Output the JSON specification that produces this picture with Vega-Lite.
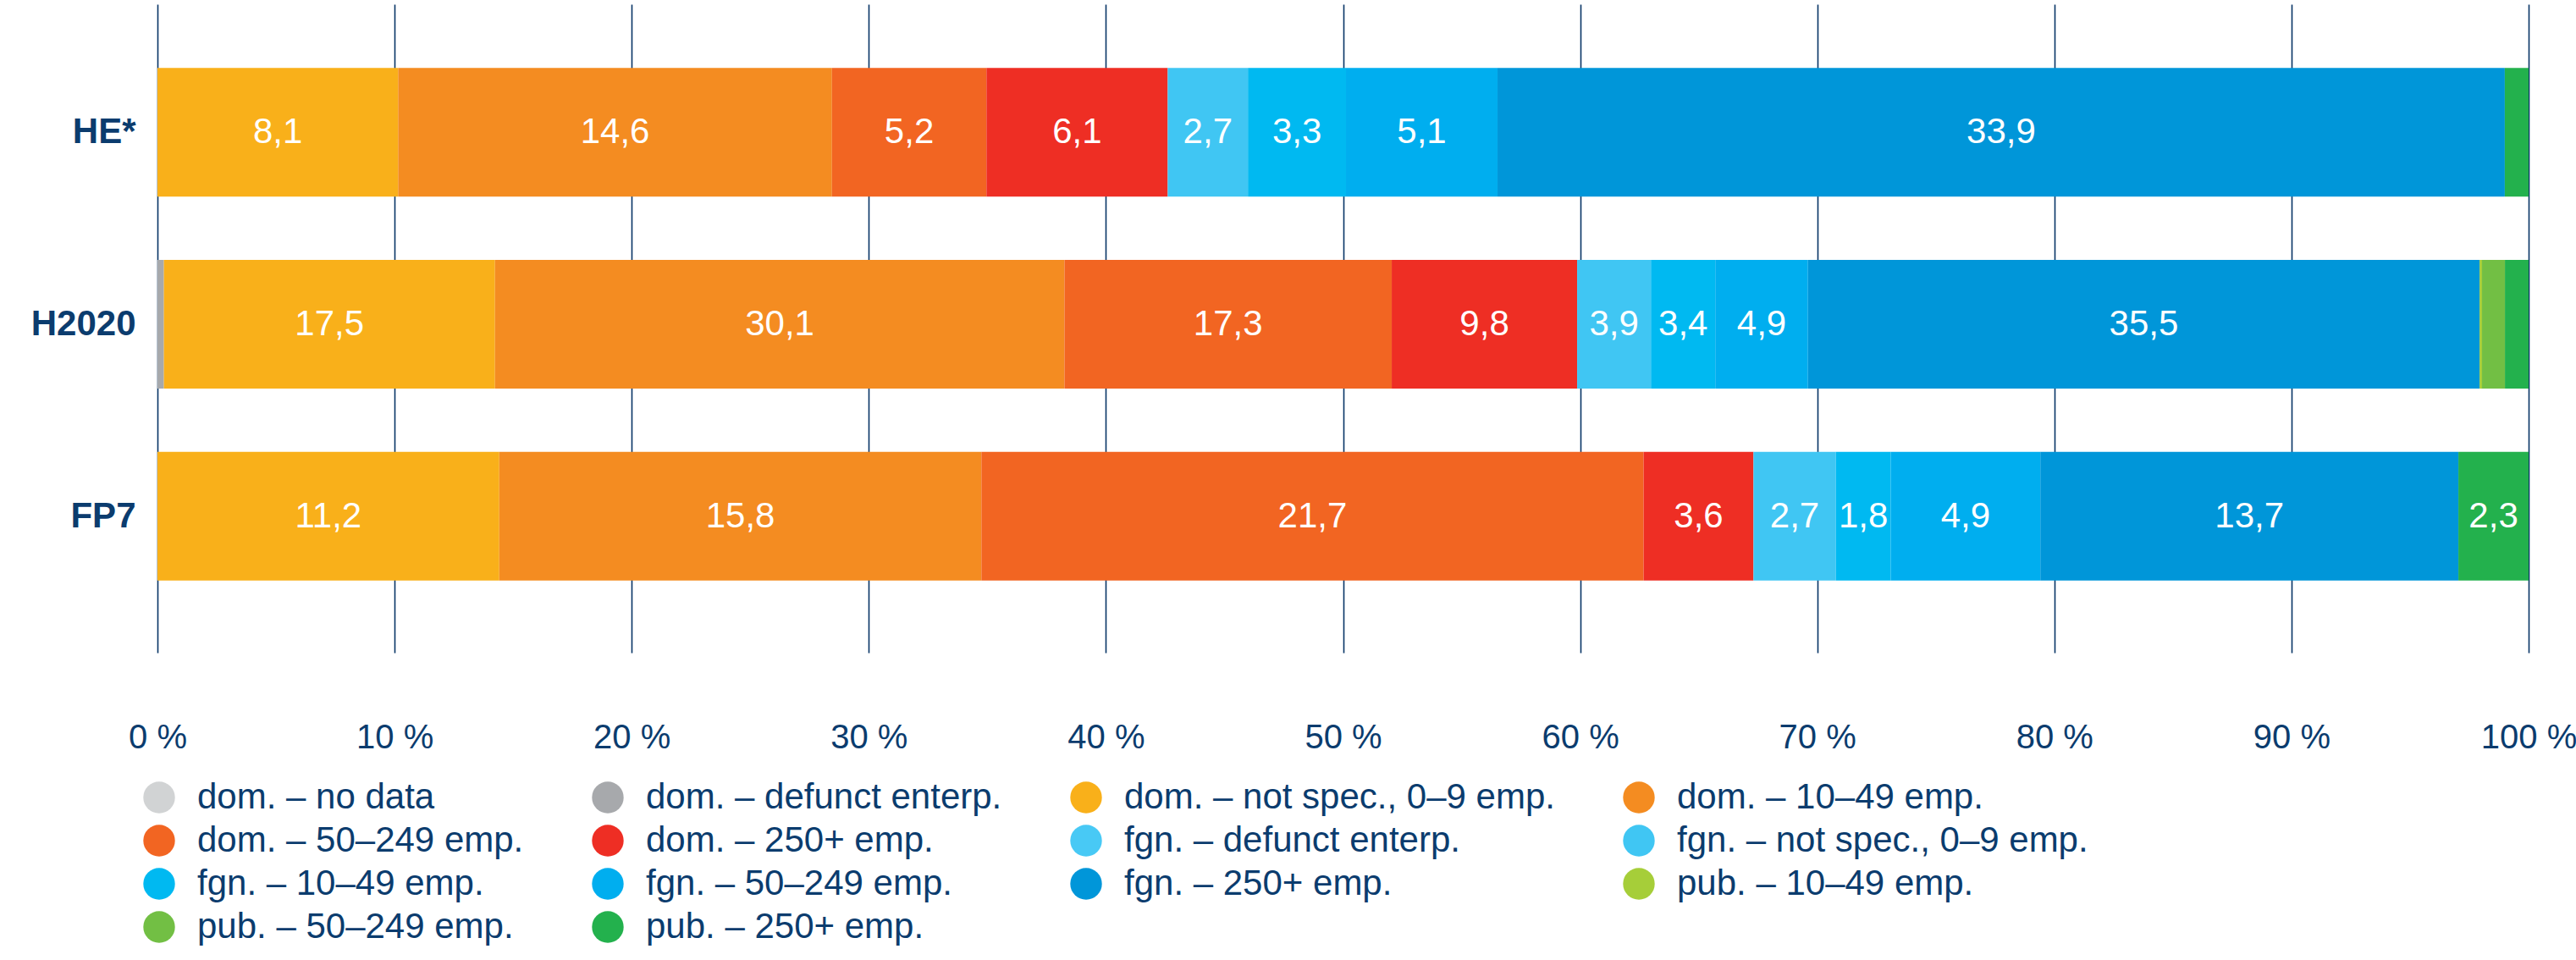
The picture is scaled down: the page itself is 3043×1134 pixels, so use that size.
{
  "$schema": "https://vega.github.io/schema/vega-lite/v6.json",
  "width": 2801,
  "height": 766,
  "autosize": {"type": "none"},
  "padding": {"left": 186, "top": 5, "right": 56, "bottom": 363},
  "background": "white",
  "config": {
    "view": {"stroke": null},
    "font": "Liberation Sans",
    "locale": {"number": {"decimal": ",", "thousands": ".", "grouping": [3], "currency": ["", " €"]}}
  },
  "data": {
    "values": [
      {"p": "HE*", "c": "dom. – not spec., 0–9 emp.", "o": 2, "v": 8.1},
      {"p": "HE*", "c": "dom. – 10–49 emp.", "o": 3, "v": 14.6},
      {"p": "HE*", "c": "dom. – 50–249 emp.", "o": 4, "v": 5.2},
      {"p": "HE*", "c": "dom. – 250+ emp.", "o": 5, "v": 6.1},
      {"p": "HE*", "c": "fgn. – not spec., 0–9 emp.", "o": 7, "v": 2.7},
      {"p": "HE*", "c": "fgn. – 10–49 emp.", "o": 8, "v": 3.3},
      {"p": "HE*", "c": "fgn. – 50–249 emp.", "o": 9, "v": 5.1},
      {"p": "HE*", "c": "fgn. – 250+ emp.", "o": 10, "v": 33.9},
      {"p": "HE*", "c": "pub. – 250+ emp.", "o": 13, "v": 0.8},
      {"p": "H2020", "c": "dom. – defunct enterp.", "o": 1, "v": 0.34},
      {"p": "H2020", "c": "dom. – not spec., 0–9 emp.", "o": 2, "v": 17.5},
      {"p": "H2020", "c": "dom. – 10–49 emp.", "o": 3, "v": 30.1},
      {"p": "H2020", "c": "dom. – 50–249 emp.", "o": 4, "v": 17.3},
      {"p": "H2020", "c": "dom. – 250+ emp.", "o": 5, "v": 9.8},
      {"p": "H2020", "c": "fgn. – not spec., 0–9 emp.", "o": 7, "v": 3.9},
      {"p": "H2020", "c": "fgn. – 10–49 emp.", "o": 8, "v": 3.4},
      {"p": "H2020", "c": "fgn. – 50–249 emp.", "o": 9, "v": 4.9},
      {"p": "H2020", "c": "fgn. – 250+ emp.", "o": 10, "v": 35.5},
      {"p": "H2020", "c": "pub. – 10–49 emp.", "o": 11, "v": 0.13},
      {"p": "H2020", "c": "pub. – 50–249 emp.", "o": 12, "v": 1.21},
      {"p": "H2020", "c": "pub. – 250+ emp.", "o": 13, "v": 1.25},
      {"p": "FP7", "c": "dom. – not spec., 0–9 emp.", "o": 2, "v": 11.2},
      {"p": "FP7", "c": "dom. – 10–49 emp.", "o": 3, "v": 15.8},
      {"p": "FP7", "c": "dom. – 50–249 emp.", "o": 4, "v": 21.7},
      {"p": "FP7", "c": "dom. – 250+ emp.", "o": 5, "v": 3.6},
      {"p": "FP7", "c": "fgn. – not spec., 0–9 emp.", "o": 7, "v": 2.7},
      {"p": "FP7", "c": "fgn. – 10–49 emp.", "o": 8, "v": 1.8},
      {"p": "FP7", "c": "fgn. – 50–249 emp.", "o": 9, "v": 4.9},
      {"p": "FP7", "c": "fgn. – 250+ emp.", "o": 10, "v": 13.7},
      {"p": "FP7", "c": "pub. – 250+ emp.", "o": 13, "v": 2.3}
    ]
  },
  "transform": [
    {"stack": "v", "groupby": ["p"], "sort": [{"field": "o"}], "offset": "normalize", "as": ["x0", "x1"]},
    {"calculate": "(datum.x0 + datum.x1) / 2", "as": "xm"}
  ],
  "encoding": {
    "y": {
      "field": "p",
      "type": "nominal",
      "sort": ["HE*", "H2020", "FP7"],
      "scale": {"paddingInner": 0.3295, "paddingOuter": 0.354, "align": 0.469},
      "axis": {
        "title": null,
        "domain": false,
        "ticks": false,
        "grid": false,
        "labelFontSize": 42,
        "labelFontWeight": "bold",
        "labelColor": "#0b3c6e",
        "labelPadding": 26,
        "labelFont": "Liberation Sans"
      }
    }
  },
  "layer": [
    {
      "mark": {"type": "bar"},
      "encoding": {
        "x": {
          "field": "x0",
          "type": "quantitative",
          "scale": {"domain": [0, 1], "nice": false, "zero": true},
          "axis": {
            "title": null,
            "values": [0, 0.1, 0.2, 0.3, 0.4, 0.5, 0.6, 0.7, 0.8, 0.9, 1],
            "labelExpr": "round(datum.value * 100) + ' %'",
            "grid": true,
            "gridColor": "#083566",
            "gridWidth": 1.6,
            "gridOpacity": 1,
            "domain": false,
            "ticks": false,
            "labelFontSize": 40,
            "labelColor": "#0b3c6e",
            "labelPadding": 80,
            "labelFlush": false,
            "labelOverlap": false,
            "labelFont": "Liberation Sans"
          }
        },
        "x2": {"field": "x1"},
        "color": {
          "field": "c",
          "type": "nominal",
          "scale": {
            "domain": [
              "dom. – no data",
              "dom. – defunct enterp.",
              "dom. – not spec., 0–9 emp.",
              "dom. – 10–49 emp.",
              "dom. – 50–249 emp.",
              "dom. – 250+ emp.",
              "fgn. – defunct enterp.",
              "fgn. – not spec., 0–9 emp.",
              "fgn. – 10–49 emp.",
              "fgn. – 50–249 emp.",
              "fgn. – 250+ emp.",
              "pub. – 10–49 emp.",
              "pub. – 50–249 emp.",
              "pub. – 250+ emp."
            ],
            "range": [
              "#d1d3d4",
              "#a7a9ac",
              "#f9b01a",
              "#f48c21",
              "#f26522",
              "#ee2e24",
              "#48c9f5",
              "#40c6f3",
              "#00b9f1",
              "#00aeef",
              "#0096d9",
              "#a6ce39",
              "#72bf44",
              "#23b14d"
            ]
          },
          "legend": {
            "orient": "none",
            "direction": "horizontal",
            "legendX": -19,
            "legendY": 916,
            "columns": 4,
            "title": null,
            "padding": 0,
            "symbolType": "circle",
            "symbolSize": 1400,
            "symbolStrokeWidth": 0,
            "symbolOpacity": 1,
            "labelFontSize": 42,
            "labelColor": "#0b3c6e",
            "labelFont": "Liberation Sans",
            "labelOffset": 24,
            "labelLimit": 900,
            "rowPadding": 9,
            "columnPadding": 78
          }
        }
      }
    },
    {
      "transform": [{"filter": "datum.v >= 1.5"}],
      "mark": {"type": "text", "color": "white", "fontSize": 42, "font": "Liberation Sans", "align": "center", "baseline": "middle"},
      "encoding": {
        "x": {"field": "xm", "type": "quantitative"},
        "text": {"field": "v", "type": "quantitative", "format": ".1f"}
      }
    }
  ]
}
